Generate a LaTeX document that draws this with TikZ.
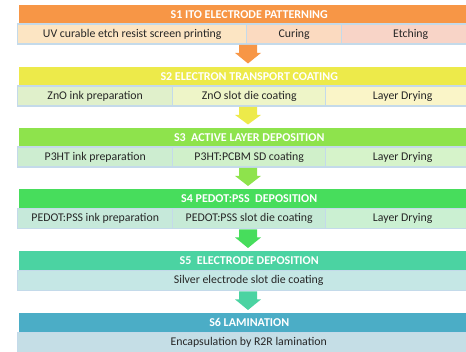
\documentclass[tikz,border=0pt]{standalone}
\usepackage{fontspec}
\setmainfont{Carlito}
\usetikzlibrary{calc}
\definecolor{bordc}{HTML}{C4DAEA}
\definecolor{hA}{HTML}{F79646}
\definecolor{hB}{HTML}{EDEA4A}
\definecolor{hC}{HTML}{8EE34C}
\definecolor{hD}{HTML}{47DD5C}
\definecolor{hE}{HTML}{4BD3A2}
\definecolor{hF}{HTML}{4BADC6}
\definecolor{cAa}{HTML}{FCE5C3}
\definecolor{cAb}{HTML}{FBDAC0}
\definecolor{cAc}{HTML}{F8D4C7}
\definecolor{cBa}{HTML}{E0F0CB}
\definecolor{cBb}{HTML}{EEF5C8}
\definecolor{cBc}{HTML}{FAF5C8}
\definecolor{cCa}{HTML}{CDEDD0}
\definecolor{cCb}{HTML}{D0F0CA}
\definecolor{cCc}{HTML}{D6F3CA}
\definecolor{cDa}{HTML}{C6E9DA}
\definecolor{cDb}{HTML}{C6EAD6}
\definecolor{cDc}{HTML}{CBF0D2}
\definecolor{cE}{HTML}{C5E7E5}
\definecolor{cF}{HTML}{C5DEE6}
\newcommand\blkarrow[3]{%
  \fill[#1] let \p1=(#2.south -| ax), \p2=(#3.north -| ax) in
    (\x1-9pt,\y1) -- (\x1+9pt,\y1) -- (\x1+9pt,\y1-8pt) -- (\x1+13pt,\y1-8pt)
    -- (\x1,\y2+3pt) -- (\x1-13pt,\y1-8pt) -- (\x1-9pt,\y1-8pt) -- cycle;}
\begin{document}
\begin{tikzpicture}[x=1pt,y=-1pt,
  head/.style={anchor=north west, minimum height=19pt, minimum width=460pt, inner sep=0pt,
    text=white, font=\bfseries\fontsize{12}{14}\selectfont},
  cell/.style={anchor=north west, minimum height=20pt, inner sep=0pt, draw=bordc,
    line width=1.4pt, text=black!85, font=\fontsize{11.8}{14}\selectfont}]
\useasboundingbox (0,0) rectangle (466,352);
\clip (0,0) rectangle (466,352);
\coordinate (ax) at (248,0);
% S1
\node[head, fill=hA] (h1) at (19,4.5) {S1 ITO ELECTRODE PATTERNING};
\node[cell, fill=cAa, minimum width=229pt] (c11) at (17,23.5) {UV curable etch resist screen printing};
\node[cell, fill=cAb, minimum width=95pt] (c12) at (246,23.5) {Curing};
\node[cell, fill=cAc, minimum width=138pt] (c13) at (341,23.5) {Etching};
% S2
\node[head, fill=hB] (h2) at (19,66.5) {S2 ELECTRON TRANSPORT COATING};
\node[cell, fill=cBa, minimum width=155pt] (c21) at (17,85.5) {ZnO ink preparation};
\node[cell, fill=cBb, minimum width=153pt] (c22) at (172,85.5) {ZnO slot die coating};
\node[cell, fill=cBc, minimum width=154pt] (c23) at (325,85.5) {Layer Drying};
% S3
\node[head, fill=hC] (h3) at (19,127.5) {S3\ \ ACTIVE LAYER DEPOSITION};
\node[cell, fill=cCa, minimum width=155pt] (c31) at (17,146.5) {P3HT ink preparation};
\node[cell, fill=cCb, minimum width=153pt] (c32) at (172,146.5) {P3HT:PCBM SD coating};
\node[cell, fill=cCc, minimum width=154pt] (c33) at (325,146.5) {Layer Drying};
% S4
\node[head, fill=hD] (h4) at (19,189) {S4 PEDOT:PSS\ \ DEPOSITION};
\node[cell, fill=cDa, minimum width=155pt] (c41) at (17,208) {PEDOT:PSS ink preparation};
\node[cell, fill=cDb, minimum width=153pt] (c42) at (172,208) {PEDOT:PSS slot die coating};
\node[cell, fill=cDc, minimum width=154pt] (c43) at (325,208) {Layer Drying};
% S5
\node[head, fill=hE] (h5) at (19,251) {S5\ \ ELECTRODE DEPOSITION};
\node[cell, fill=cE, minimum width=462pt] (c51) at (17,270) {Silver electrode slot die coating};
% S6
\node[head, fill=hF] (h6) at (19,313) {S6 LAMINATION};
\node[cell, fill=cF, minimum width=462pt] (c61) at (17,332) {Encapsulation by R2R lamination};
% arrows
\blkarrow{hA}{c11}{h2}
\blkarrow{hB}{c21}{h3}
\blkarrow{hC}{c31}{h4}
\blkarrow{hD}{c41}{h5}
\blkarrow{hE}{c51}{h6}
\end{tikzpicture}
\end{document}
